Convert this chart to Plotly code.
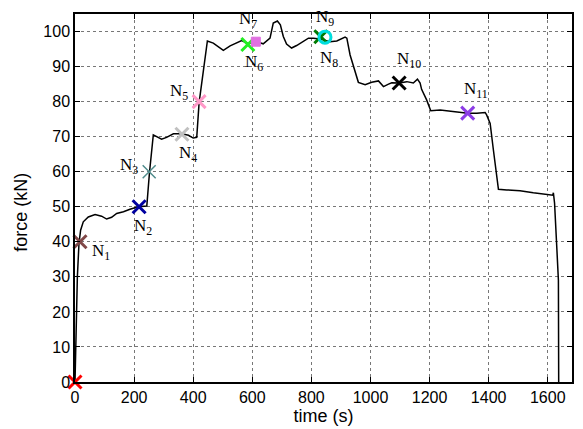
import plotly.graph_objects as go

# force curve (time in s, force in kN)
time_s = [0, 3, 8, 13.5, 19, 28, 45, 68, 90, 107, 124, 141, 152, 164, 186, 214, 243,
          252, 265, 276, 293, 310, 333, 361, 384, 400, 412, 420, 434, 448, 468, 491,
          502, 525, 547, 564, 587, 615, 637, 660, 671, 685, 695, 705, 716, 733, 750,
          773, 790, 807, 829, 863, 886, 914, 920, 931, 948, 959, 982, 1004, 1027,
          1044, 1061, 1072, 1097, 1123, 1145, 1159, 1168, 1173, 1190, 1204, 1236,
          1269, 1303, 1329, 1360, 1388, 1393, 1405, 1416, 1422, 1433, 1461, 1506,
          1551, 1597, 1617, 1619, 1623, 1631, 1636, 1637]
force_kn = [0, 14.8, 30, 39.6, 43.3, 45.7, 47.1, 47.8, 47.3, 46.5, 47, 48.1, 48.3,
            48.6, 49.3, 50, 50.2, 59.7, 70.5, 70, 69.3, 69.8, 70.8, 70.8, 70.4, 69.6,
            69.8, 79.7, 89, 97.3, 96.7, 95.3, 94.6, 95.9, 96.7, 97.4, 96.5, 97.1,
            96.5, 98.1, 102.4, 103, 101.9, 98.6, 96.4, 95.3, 96, 97.1, 98.1, 98.1,
            97.9, 97.1, 97.3, 98.4, 98.1, 93.3, 88.6, 85.5, 84.8, 85.5, 85.9, 84.3,
            85, 85.4, 85.3, 85.7, 85.3, 86.4, 85.3, 83.5, 80.5, 77.4, 77.6, 77.3,
            77.1, 76.7, 76.7, 76.9, 76.2, 73.8, 66.2, 62, 55, 54.8, 54.6, 54, 53.6,
            53.3, 54, 51, 37.6, 29, 0]

# marked points N0..N11
point_t = [0, 17, 217, 251, 362, 420, 585, 612, 846, 832, 1097, 1329]
point_f = [0, 40, 50, 60, 70.7, 80, 96.3, 97.1, 98.4, 98.5, 85.3, 76.7]
point_names = ["", "N<sub>1</sub>", "N<sub>2</sub>", "N<sub>3</sub>", "N<sub>4</sub>",
               "N<sub>5</sub>", "N<sub>6</sub>", "N<sub>7</sub>", "N<sub>8</sub>",
               "N<sub>9</sub>", "N<sub>10</sub>", "N<sub>11</sub>"]
point_colors = ["#ff0000", "#804848", "#0000a0", "#508c8c", "#c0c0c0", "#ff99c8",
                "#22ee22", "#e070e0", "#00dddd", "#007a00", "#000000", "#8c3ce6"]
point_symbols = ["x-thin", "x-thin", "x-thin", "x-thin", "x-thin", "x-thin",
                 "x-thin", "square", "circle-open", "x-thin", "x-thin", "x-thin"]
# label offsets in pixels (dx, dy)
label_offsets = [(0, 0), (21, 10), (4, 20), (-20, -6), (6, 20), (-20, -10),
                 (6, 19), (-8, -22), (4, 22), (4, -19), (10, -23), (8, -23)]

fig = go.Figure()

fig.add_trace(go.Scatter(x=time_s, y=force_kn, mode='lines',
                         line=dict(color='black', width=1.5), showlegend=False))

# draw N9 before N8 so the cyan circle sits on top
order = [0, 1, 2, 3, 4, 5, 6, 7, 9, 8, 10, 11]
for i in order:
    sym = point_symbols[i]
    if sym == "square":
        marker = dict(symbol='square', size=9, color=point_colors[i],
                      line=dict(color=point_colors[i], width=1))
    elif sym == "circle-open":
        marker = dict(symbol='circle-open', size=12, color=point_colors[i],
                      line=dict(color=point_colors[i], width=3))
    else:
        w = 1.5 if i == 3 else 3
        marker = dict(symbol='x-thin', size=13, color=point_colors[i],
                      line=dict(color=point_colors[i], width=w))
    fig.add_trace(go.Scatter(x=[point_t[i]], y=[point_f[i]], mode='markers',
                             marker=marker, cliponaxis=False, showlegend=False))

for i in range(1, len(point_t)):
    dx, dy = label_offsets[i]
    fig.add_annotation(x=point_t[i], y=point_f[i], text=point_names[i],
                       showarrow=False, xshift=dx, yshift=-dy,
                       xanchor='center', yanchor='middle',
                       font=dict(family='Liberation Serif', size=17, color='black'))

# y label sits a little below the middle of the axis in the original
fig.add_annotation(xref='paper', yref='paper', x=0, y=0.46, xshift=-54,
                   xanchor='center', yanchor='middle',
                   text='force (kN)', textangle=-90, showarrow=False,
                   font=dict(family='Liberation Sans', size=18, color='black'))

axis_style = dict(showline=True, linecolor='black', linewidth=1.5, mirror='ticks',
                  ticks='inside', ticklen=5, tickcolor='black', automargin=False,
                  showgrid=True, gridcolor='#777777', griddash='dot', gridwidth=1,
                  zeroline=False,
                  tickfont=dict(family='Liberation Sans', size=16, color='black'))

fig.update_xaxes(range=[0, 1682], tickvals=[0, 200, 400, 600, 800, 1000, 1200, 1400, 1600],
                 title=dict(text='time (s)', standoff=4,
                            font=dict(family='Liberation Sans', size=18, color='black')),
                 **axis_style)
fig.update_yaxes(range=[0, 105], tickvals=[0, 10, 20, 30, 40, 50, 60, 70, 80, 90, 100],
                 **axis_style)

# the page body adds 8px on the left and top, so the figure is sized to fit
fig.update_layout(
    width=575, height=421,
    margin=dict(l=67, r=11, t=6, b=47),
    plot_bgcolor='white', paper_bgcolor='white',
    showlegend=False
)

fig.write_html("out.html")
